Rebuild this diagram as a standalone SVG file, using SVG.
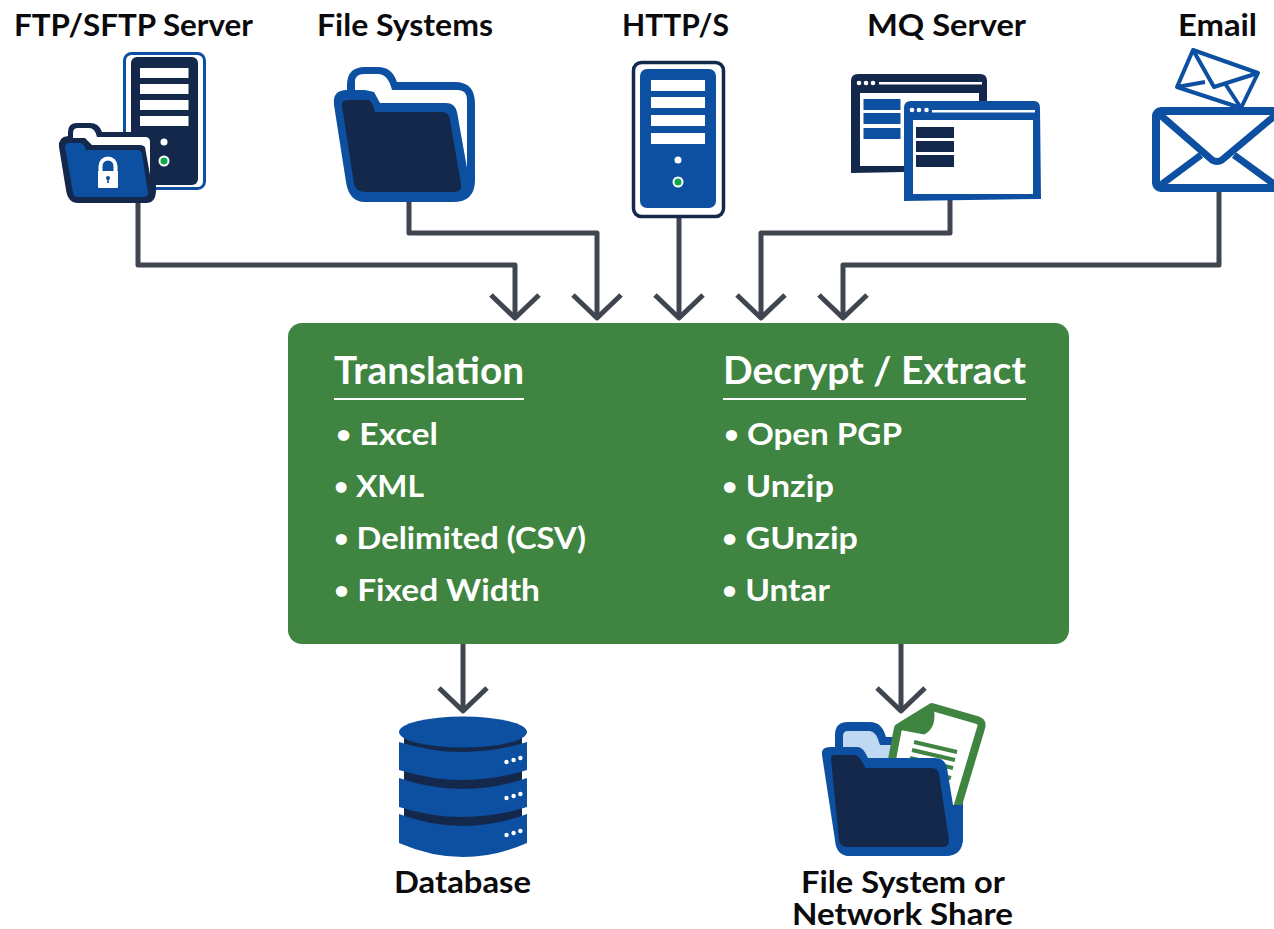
<svg xmlns="http://www.w3.org/2000/svg" width="1274" height="929" viewBox="0 0 1274 929">
<style>
text{font-family:"Lato","Liberation Sans",sans-serif;font-weight:700}
.lbl{font-size:30px;fill:#0b0b0d}
.hd{font-size:38px;fill:#fff}
.it{font-size:31px;fill:#fff}
.b{font-size:24px}
.c{fill:none;stroke:#3f4650;stroke-width:5;stroke-linejoin:round}
.navy{fill:#14284b}.blue{fill:#0d50a1}.w{fill:#fff}.g{fill:#0fa84e}
</style>
<defs>
<path id="chev" class="c" d="M-24,-23L0,0L24,-23"/>
<g id="bars"><rect x="0" y="0" width="54" height="11"/><rect x="0" y="17" width="54" height="11"/><rect x="0" y="35" width="54" height="11"/><rect x="0" y="53" width="54" height="11"/></g>
</defs>
<rect width="1274" height="929" fill="#fff"/>
<g id="connectors">
<path class="c" d="M138,195V265H515V317"/><use href="#chev" x="515" y="318"/>
<path class="c" d="M409,195V233H597V317"/><use href="#chev" x="597" y="318"/>
<path class="c" d="M679,215V317"/><use href="#chev" x="679" y="318"/>
<path class="c" d="M950,198V233H761V317"/><use href="#chev" x="761" y="318"/>
<path class="c" d="M1219,188V265H843V317"/><use href="#chev" x="843" y="318"/>
<path class="c" d="M463,640V710"/><use href="#chev" x="463" y="711"/>
<path class="c" d="M901,640V710"/><use href="#chev" x="901" y="711"/>
</g>
<g id="node-ftp">
<rect x="124.500" y="53.500" width="80" height="135" rx="7" fill="#fff" stroke="#0d50a1" stroke-width="3"/>
<rect class="navy" x="131" y="57" width="67" height="128" rx="6"/>
<g class="w"><rect x="140" y="68" width="48.500" height="10"/><rect x="140" y="84" width="48.500" height="10"/><rect x="140" y="100" width="48.500" height="10"/><rect x="140" y="116" width="48.500" height="10"/></g>
<circle class="w" cx="164" cy="142" r="3.500"/><circle class="w" cx="164" cy="161" r="5.500"/><circle class="g" cx="164" cy="161" r="3.500"/>
<path class="navy" d="M68,136V132Q68,123 77,123H90Q99,123 102,132H145Q154,132 155,142L156,190Q156,203 146,203H78Q68,203 66,190L59,147Q58,137 68,136Z"/>
<path class="w" d="M73,138V133Q73,128 78,128H89Q95,128 97,137H145Q150,137 150,142V175L145,147Q143,145 140,145H92L85,138Z"/>
<path class="blue" d="M65,147Q65,143 69,143H80Q84,143 86,150H138Q141,150 142,154L148,193Q148,197 144,197H78Q74,197 73,193Z"/>
<path d="M100.500,172V166A7.500,7.500,0,0,1,115.500,166V172" fill="none" stroke="#fff" stroke-width="4"/>
<rect class="w" x="98" y="171" width="20" height="17" rx="1"/><circle class="blue" cx="108" cy="178" r="2"/><rect class="blue" x="107.200" y="178" width="1.600" height="5"/>
<text class="lbl" x="14" y="36" textLength="239" lengthAdjust="spacingAndGlyphs">FTP/SFTP Server</text>
</g>
<g id="node-files">
<path class="blue" d="M347,90V85Q347,67 365,67H378Q392,67 397,82H455Q475,82 475,104V180Q475,202 453,202H365Q349,202 346,182L334,105Q332,90 347,90Z"/>
<path class="w" d="M355,90V82Q355,74 364,74H378Q388,74 392,90H458Q467,90 467,100V168L457,112Q455,103 446,103H380L374,92L365,90Z"/>
<path class="navy" d="M342,106Q341,100 348,100H368Q372,100 375,112H442Q449,112 450,120L461,184Q462,192 454,192H366Q356,192 354,184Z"/>
<text class="lbl" x="317" y="36" textLength="176" lengthAdjust="spacingAndGlyphs">File Systems</text>
</g>
<g id="node-http">
<rect x="633.500" y="62.500" width="90" height="154" rx="8" fill="#fff" stroke="#14284b" stroke-width="3.500"/>
<rect class="blue" x="640" y="69" width="76" height="139" rx="7"/>
<use href="#bars" x="651" y="80" class="w"/>
<circle class="w" cx="678" cy="160" r="3.500"/><circle class="w" cx="678" cy="182" r="5.500"/><circle class="g" cx="678" cy="182" r="3.500"/>
<text class="lbl" x="622" y="36" textLength="107" lengthAdjust="spacingAndGlyphs">HTTP/S</text>
</g>
<g id="node-mq">
<path class="navy" d="M851,173V81Q851,74 858,74H980Q987,74 987,81V110H905V172Z"/>
<rect class="w" x="860" y="93" width="119" height="73"/>
<rect class="w" x="879" y="82" width="103" height="2.500"/>
<g class="w"><circle cx="859" cy="83" r="2.300"/><circle cx="866" cy="83" r="2.300"/><circle cx="873" cy="83" r="2.300"/></g>
<g class="blue"><rect x="863.500" y="99" width="37" height="11"/><rect x="863.500" y="113" width="37" height="11"/><rect x="863.500" y="128" width="37" height="11"/></g>
<path class="blue" d="M904,201V108Q904,101 911,101H1034Q1040,101 1040,108L1041,199Z"/>
<rect class="w" x="913" y="120" width="120" height="74"/>
<rect class="w" x="932" y="110" width="103" height="2.500"/>
<g class="w"><circle cx="912" cy="110" r="2.300"/><circle cx="919" cy="110" r="2.300"/><circle cx="926.500" cy="110" r="2.300"/></g>
<g class="navy"><rect x="916" y="127" width="38" height="11"/><rect x="916" y="141" width="38" height="11"/><rect x="916" y="155" width="38" height="12"/></g>
<text class="lbl" x="867" y="36" textLength="159" lengthAdjust="spacingAndGlyphs">MQ Server</text>
</g>
<g id="node-email">
<path d="M1193,50L1258,73L1241,108L1177,87Z" fill="#fff" stroke="#0d50a1" stroke-width="4" stroke-linejoin="round"/>
<path d="M1193,50L1214,87L1258,73M1177,87L1205,82M1241,108L1226,85" fill="none" stroke="#0d50a1" stroke-width="4" stroke-linejoin="round"/>
<rect x="1156" y="111" width="124" height="77" rx="5" fill="#fff" stroke="#0d50a1" stroke-width="8"/>
<path d="M1158,113L1212,160Q1217,163 1222,160L1278,113" fill="none" stroke="#0d50a1" stroke-width="7"/>
<path d="M1158,187L1201,155M1278,187L1234,155" fill="none" stroke="#0d50a1" stroke-width="7"/>
<text class="lbl" x="1178" y="36" textLength="79" lengthAdjust="spacingAndGlyphs">Email</text>
</g>
<g id="node-process">
<rect x="288" y="323" width="781" height="321" rx="14" fill="#3f8440"/>
<text class="hd" x="334" y="384" textLength="190" lengthAdjust="spacingAndGlyphs">Translation</text>
<rect class="w" x="334" y="398" width="190" height="2"/>
<text class="hd" x="723" y="384" textLength="303" lengthAdjust="spacingAndGlyphs">Decrypt / Extract</text>
<rect class="w" x="723" y="398" width="303" height="2"/>
<text class="it" x="336" y="445" textLength="102" lengthAdjust="spacingAndGlyphs"><tspan class="b" dy="-2">•</tspan><tspan dy="2"> Excel</tspan></text>
<text class="it" x="334" y="497" textLength="90" lengthAdjust="spacingAndGlyphs"><tspan class="b" dy="-2">•</tspan><tspan dy="2"> XML</tspan></text>
<text class="it" x="334" y="549" textLength="252" lengthAdjust="spacingAndGlyphs"><tspan class="b" dy="-2">•</tspan><tspan dy="2"> Delimited (CSV)</tspan></text>
<text class="it" x="334" y="601" textLength="206" lengthAdjust="spacingAndGlyphs"><tspan class="b" dy="-2">•</tspan><tspan dy="2"> Fixed Width</tspan></text>
<text class="it" x="724" y="445" textLength="178" lengthAdjust="spacingAndGlyphs"><tspan class="b" dy="-2">•</tspan><tspan dy="2"> Open PGP</tspan></text>
<text class="it" x="722" y="497" textLength="112" lengthAdjust="spacingAndGlyphs"><tspan class="b" dy="-2">•</tspan><tspan dy="2"> Unzip</tspan></text>
<text class="it" x="722" y="549" textLength="136" lengthAdjust="spacingAndGlyphs"><tspan class="b" dy="-2">•</tspan><tspan dy="2"> GUnzip</tspan></text>
<text class="it" x="722" y="601" textLength="108" lengthAdjust="spacingAndGlyphs"><tspan class="b" dy="-2">•</tspan><tspan dy="2"> Untar</tspan></text>
</g>
<g id="node-database">
<g class="navy"><rect x="404" y="735" width="118" height="25"/><rect x="404" y="768" width="118" height="28"/><rect x="404" y="805" width="118" height="28"/></g>
<g class="blue">
<path d="M399,742Q463,762 527,742V770Q463,790 399,770Z"/>
<path d="M399,778Q463,800 527,778V807Q463,827 399,807Z"/>
<path d="M399,814Q463,838 527,814V843Q463,871 399,843Z"/>
<ellipse cx="463" cy="732" rx="64" ry="15.500"/>
</g>
<g class="w">
<circle cx="506.500" cy="762" r="2.200"/><circle cx="513.600" cy="760" r="2.200"/><circle cx="520.400" cy="758" r="2.200"/>
<circle cx="506.500" cy="798" r="2.200"/><circle cx="513.600" cy="796" r="2.200"/><circle cx="520.400" cy="794" r="2.200"/>
<circle cx="506.500" cy="835" r="2.200"/><circle cx="513.600" cy="833" r="2.200"/><circle cx="520.400" cy="831" r="2.200"/>
</g>
<text class="lbl" x="394" y="893" textLength="137" lengthAdjust="spacingAndGlyphs">Database</text>
</g>
<g id="node-share">
<path class="blue" d="M835,750V735Q835,722 848,722H870Q882,722 886,737H905V800H963V835Q963,856 943,856H850Q836,856 835,835Z"/>
<path d="M843,755V736Q843,731 848,731H870Q876,731 880,745H900V765H850Z" fill="#bfd9f2"/>
<path d="M898,728L932,707L977,720Q983,722 981,728L955,815L925,800L890,770Z" fill="#fff" stroke="#3f8440" stroke-width="8" stroke-linejoin="round"/>
<path d="M932,707Q936,726 924,733L898,728" fill="#3f8440" stroke="#3f8440" stroke-width="3"/>
<path d="M914,742L957,752M912,750L955,760M910,758L953,768M908,768L951,778" fill="none" stroke="#3f8440" stroke-width="4"/>
<path class="blue" d="M822,755Q821,747 830,747H858Q863,747 868,758H935Q945,758 947,768L953,805H963V838Q963,856 945,856H850Q836,856 835,840Z"/>
<path class="navy" d="M831,759Q831,755 835,755H855Q859,755 865.500,768H932Q938,768 939,774L949,840Q949,847 943,847H847Q840,847 839,840Z"/>
<text class="lbl" x="801" y="893" textLength="204" lengthAdjust="spacingAndGlyphs">File System or</text>
<text class="lbl" x="792" y="925" textLength="221" lengthAdjust="spacingAndGlyphs">Network Share</text>
</g>
</svg>
